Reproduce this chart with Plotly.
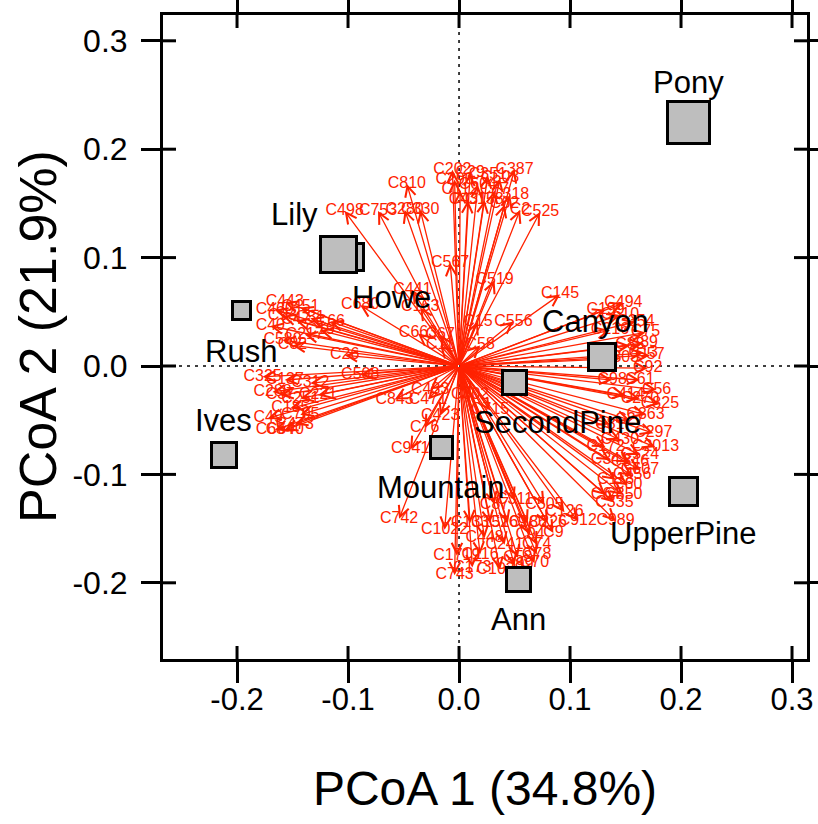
import plotly.graph_objects as go

# ---------------- data ----------------
site_names = ["Howe", "Lily", "Pony", "Rush", "Ives", "Canyon", "SecondPine",
              "Mountain", "UpperPine", "Ann"]
site_pc1 = [-0.098, -0.109, 0.207, -0.196, -0.212, 0.129, 0.050, -0.016, 0.202, 0.054]
site_pc2 = [0.101, 0.103, 0.225, 0.051, -0.082, 0.008, -0.015, -0.075, -0.116, -0.197]
site_weight = [24, 33, 39, 15, 22, 24, 21, 19, 25, 21]

species = ["C202", "C387", "C351", "C29", "C503", "C112", "C604", "C77", "C318", "C62",
           "C525", "C2", "C431", "C158", "C290", "C810", "C498", "C753", "C280", "C330",
           "C567", "C519", "C145", "C556", "C15", "C441", "C163", "C680", "C663", "C67",
           "C443", "C451", "C40", "C93", "C47", "C580", "C31", "C19", "C460", "C217",
           "C66", "C82", "C325", "C288", "C137", "C221", "C49", "C640", "C185", "C251",
           "C37", "C473", "C684", "C312", "C705", "C843", "C471", "C423", "C76", "C941",
           "C742", "C508", "C26", "C494", "C75", "C89", "C13", "C92", "C56", "C825",
           "C610", "C354", "C216", "C88", "C303", "C61", "C414", "C270", "C98", "C57",
           "C199", "C297", "C2013", "C346", "C456", "C60", "C850", "C335", "C989", "C912",
           "C430", "C172", "C524", "C341", "C607", "C118", "C64", "C27", "C363", "C81",
           "C1022", "C448", "C9", "C74", "C78", "C70", "C1719", "C743", "C1038", "C133",
           "C152", "C169", "C386", "C94", "C241", "C53", "C116", "C399", "C226", "C87",
           "C311", "C505", "C126", "C173", "C433", "C58", "C11", "C302", "C715"]
species_pc1 = [-0.006, 0.050, 0.026, 0.010, 0.037, 0.001, 0.017, 0.032, 0.046, 0.041,
               0.073, 0.055, 0.008, 0.023, -0.004, -0.047, -0.103, -0.073, -0.049, -0.035,
               -0.008, 0.032, 0.091, 0.049, 0.017, -0.042, -0.035, -0.089, -0.037, -0.017,
               -0.157, -0.143, -0.170, -0.159, -0.147, -0.159, -0.134, -0.125, -0.166, -0.139,
               -0.116, -0.150, -0.177, -0.168, -0.157, -0.127, -0.172, -0.157, -0.152, -0.143,
               -0.161, -0.148, -0.166, -0.134, -0.143, -0.058, -0.028, -0.017, -0.031, -0.044,
               -0.054, -0.089, -0.103, 0.148, 0.168, 0.166, 0.166, 0.170, 0.178, 0.181,
               0.145, 0.159, 0.136, 0.154, 0.145, 0.163, 0.150, 0.163, 0.138, 0.172,
               0.132, 0.175, 0.177, 0.154, 0.156, 0.152, 0.148, 0.140, 0.141, 0.107,
               0.145, 0.132, 0.163, 0.136, 0.163, 0.141, 0.132, 0.154, 0.168, 0.136,
               -0.013, 0.023, 0.085, 0.070, 0.070, 0.068, -0.002, -0.004, 0.037, 0.010,
               0.028, 0.044, 0.062, 0.064, 0.041, 0.053, 0.019, 0.050, 0.080, 0.032,
               0.050, 0.077, 0.095, 0.012, -0.026, 0.019, -0.017, 0.010, 0.028]
species_pc2 = [0.181, 0.181, 0.176, 0.178, 0.173, 0.162, 0.167, 0.162, 0.158, 0.149,
               0.142, 0.144, 0.153, 0.153, 0.172, 0.168, 0.143, 0.143, 0.144, 0.144,
               0.095, 0.079, 0.066, 0.041, 0.041, 0.070, 0.054, 0.056, 0.030, 0.029,
               0.059, 0.054, 0.037, 0.046, 0.042, 0.024, 0.044, 0.033, 0.052, 0.029,
               0.041, 0.019, -0.010, -0.024, -0.013, -0.027, -0.048, -0.059, -0.039, -0.030,
               -0.027, -0.054, -0.059, -0.016, -0.045, -0.031, -0.031, -0.046, -0.057, -0.077,
               -0.141, -0.008, 0.010, 0.058, 0.031, 0.021, 0.012, -0.002, -0.022, -0.035,
               0.047, 0.041, 0.033, 0.019, 0.007, -0.013, -0.027, -0.030, -0.013, 0.010,
               0.052, -0.062, -0.075, -0.089, -0.101, -0.110, -0.119, -0.126, -0.143, -0.143,
               -0.068, -0.075, -0.082, -0.087, -0.096, -0.105, -0.119, -0.050, -0.045, -0.054,
               -0.151, -0.159, -0.154, -0.165, -0.174, -0.182, -0.175, -0.193, -0.188, -0.145,
               -0.145, -0.145, -0.145, -0.156, -0.165, -0.177, -0.174, -0.184, -0.145, -0.128,
               -0.124, -0.128, -0.135, -0.186, -0.022, 0.019, 0.019, -0.027, -0.041]

tick_vals = [-0.2, -0.1, 0.0, 0.1, 0.2, 0.3]
tick_text = ["-0.2", "-0.1", "0.0", "0.1", "0.2", "0.3"]
x_title = "PCoA 1 (34.8%)"
y_title = "PCoA 2 (21.9%)"

# ---------------- style ----------------
RED = "#FF2200"
FONT = "Liberation Sans, Arial, Helvetica, sans-serif"
XR = [-0.2667, 0.3135]
YR = [-0.2703, 0.3238]
PLOT_PX = 644                      # plot area is 644 x 644 px
INNER_TICK_PX = 13
dx_tick = INNER_TICK_PX * (XR[1] - XR[0]) / PLOT_PX
dy_tick = INNER_TICK_PX * (YR[1] - YR[0]) / PLOT_PX
label_shift = {  # (xshift, yshift) in px
    "Howe": (41, -41), "Lily": (-44, 40), "Pony": (0, 40), "Rush": (0, -41),
    "Ives": (0, 34), "Canyon": (-7, 36), "SecondPine": (43, -40),
    "Mountain": (0, -40), "UpperPine": (0, -42), "Ann": (0, -40),
}

fig = go.Figure()

# species labels (text at arrow tips)
fig.add_trace(go.Scatter(
    x=species_pc1, y=species_pc2, mode="text", text=species,
    textposition="middle center",
    textfont=dict(family=FONT, size=16, color=RED),
    cliponaxis=False, showlegend=False, hoverinfo="skip"))

# inner halves of the tick marks (ticks cross the frame on all four sides)
tx, ty = [], []
for t in tick_vals:
    tx += [t, t, None, t, t, None, XR[0], XR[0] + dx_tick, None, XR[1], XR[1] - dx_tick, None]
    ty += [YR[0], YR[0] + dy_tick, None, YR[1], YR[1] - dy_tick, None, t, t, None, t, t, None]
fig.add_trace(go.Scatter(x=tx, y=ty, mode="lines", line=dict(color="black", width=3),
                         cliponaxis=False, showlegend=False, hoverinfo="skip"))

annotations = []
# arrows from origin
for sx, sy in zip(species_pc1, species_pc2):
    annotations.append(dict(
        x=sx, y=sy, ax=0, ay=0, xref="x", yref="y", axref="x", ayref="y",
        text="", showarrow=True, arrowhead=5, arrowsize=1.6, arrowwidth=1.3,
        arrowcolor=RED, standoff=0, startstandoff=0))

# site squares (drawn over arrows)
for name, px, py, w in zip(site_names, site_pc1, site_pc2, site_weight):
    annotations.append(dict(
        x=px, y=py, xref="x", yref="y", text=" ", showarrow=False,
        width=w, height=w, bgcolor="#BEBEBE", bordercolor="black",
        borderwidth=3, borderpad=0, font=dict(size=1),
        xanchor="center", yanchor="middle"))

# site labels
for name, px, py in zip(site_names, site_pc1, site_pc2):
    dx, dy = label_shift[name]
    annotations.append(dict(
        x=px, y=py, xref="x", yref="y", text=name, showarrow=False,
        xshift=dx, yshift=dy, font=dict(family=FONT, size=31, color="black"),
        xanchor="center", yanchor="middle"))

# y axis title
annotations.append(dict(
    x=0, y=0.5, xref="paper", yref="paper", xshift=-125, text=y_title,
    textangle=-90, showarrow=False, xanchor="center", yanchor="middle",
    font=dict(family=FONT, size=52, color="black")))

fig.add_hline(y=0, line=dict(color="black", width=1.5, dash="3px,5px"), layer="below")
fig.add_vline(x=0, line=dict(color="black", width=1.5, dash="3px,5px"), layer="below")

axis_common = dict(showgrid=False, zeroline=False, tickvals=tick_vals,
                   ticktext=tick_text, tickcolor="black", tickwidth=3,
                   automargin=False, showline=True, linewidth=3,
                   linecolor="black", mirror="ticks", ticks="outside")

fig.update_layout(
    width=818, height=824,
    margin=dict(l=163, r=11, t=15, b=165, autoexpand=False),
    paper_bgcolor="white", plot_bgcolor="white",
    font=dict(family=FONT, color="black"),
    annotations=annotations,
    xaxis=dict(range=XR, ticklen=21,
               tickfont=dict(size=31), ticklabelstandoff=-10,
               title=dict(text=x_title, font=dict(size=48), standoff=56),
               **axis_common),
    yaxis=dict(range=YR, ticklen=19,
               tickfont=dict(size=32), ticklabelstandoff=7,
               **axis_common),
)

fig.write_html("out.html",
               config={"displayModeBar": False, "staticPlot": True},
               post_script="document.body.style.margin='0';"
                           "document.body.style.overflow='hidden';")
